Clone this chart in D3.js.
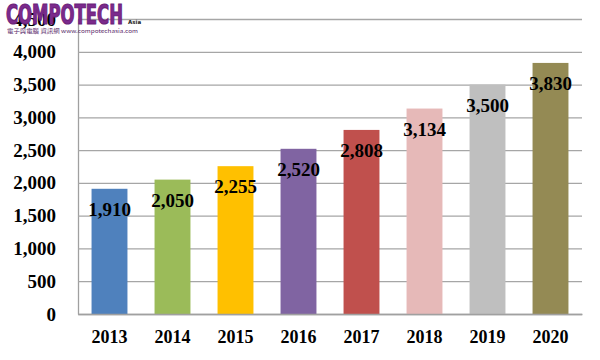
<!DOCTYPE html>
<html><head><meta charset="utf-8">
<script src="https://cdn.jsdelivr.net/npm/d3@7"></script>
<style>
body{margin:0;background:#fff;}
svg{display:block;}
</style></head>
<body>
<svg id="c" width="600" height="360"></svg>
<script>
const years = ["2013","2014","2015","2016","2017","2018","2019","2020"];
const values = [1910, 2050, 2255, 2520, 2808, 3134, 3500, 3830];
const colors = ["#4f81bd","#9bbb59","#ffc000","#8064a2","#c0504d","#e6b9b8","#bfbfbf","#948a54"];
const yTicks = [0,500,1000,1500,2000,2500,3000,3500,4000,4500];

const svg = d3.select("#c");
const L = 78, R = 582, T = 19, B = 314;
const x = d3.scaleBand().domain(years).range([L, R]).paddingInner(0.43).paddingOuter(0.215);
const y = d3.scaleLinear().domain([0, 4500]).range([B, T]);
const fmt = d3.format(",");
const serif = "'Liberation Serif','Times New Roman',serif";

// gridlines + y axis
const ya = svg.append("g").attr("transform", `translate(${L},0)`)
  .call(d3.axisLeft(y).tickValues(yTicks).tickFormat(fmt).tickSizeInner(-(R - L)).tickSizeOuter(0).tickPadding(22));
ya.select(".domain").attr("stroke", "#a0a0a0").attr("stroke-width", 1.3);
ya.selectAll(".tick line").attr("stroke", "#a6a6a6").attr("stroke-width", 1.3);
ya.selectAll(".tick text").attr("font-family", serif).attr("font-weight", "bold").attr("font-size", 19).attr("fill", "#000");

// bars
svg.append("g").selectAll("rect").data(values).join("rect")
  .attr("x", (d, i) => x(years[i])).attr("width", x.bandwidth())
  .attr("y", d => y(d)).attr("height", d => B - y(d))
  .attr("fill", (d, i) => colors[i]);

// x axis
const xa = svg.append("g").attr("transform", `translate(0,${B})`)
  .call(d3.axisBottom(x).tickSize(0).tickPadding(16));
xa.select(".domain").attr("stroke", "#a0a0a0").attr("stroke-width", 1.3);
xa.selectAll(".tick text").attr("font-family", serif).attr("font-weight", "bold").attr("font-size", 18).attr("fill", "#000");

// data labels
svg.append("g").selectAll("text").data(values).join("text")
  .attr("x", (d, i) => x(years[i]) + x.bandwidth() / 2)
  .attr("y", d => y(d) + 27)
  .attr("text-anchor", "middle")
  .attr("font-family", serif).attr("font-weight", "bold").attr("font-size", 19)
  .attr("fill", "#000")
  .text(d => fmt(d));

// logo
const logo = svg.append("g");
logo.append("text").attr("x", 6).attr("y", 24)
  .attr("font-family", "'Liberation Sans Narrow','DejaVu Sans Condensed',sans-serif")
  .attr("font-weight", "bold").attr("font-size", 27)
  .attr("textLength", 117).attr("lengthAdjust", "spacingAndGlyphs")
  .attr("fill", "#7b2a8c").attr("stroke", "#6a1f7a").attr("stroke-width", 1.1)
  .text("COMPOTECH");
logo.append("text").attr("x", 128).attr("y", 24)
  .attr("font-family", "'DejaVu Sans',sans-serif").attr("font-weight", "bold").attr("font-size", 5.5)
  .attr("fill", "#222").text("Asia");
logo.append("text").attr("x", 7).attr("y", 33)
  .attr("font-family", "'Noto Sans CJK TC','DejaVu Sans',sans-serif").attr("font-size", 5.5)
  .attr("textLength", 131).attr("lengthAdjust", "spacingAndGlyphs")
  .attr("fill", "#5a2a6a").text("電子與電腦 資訊網  www.compotechasia.com");
</script>
</body></html>
